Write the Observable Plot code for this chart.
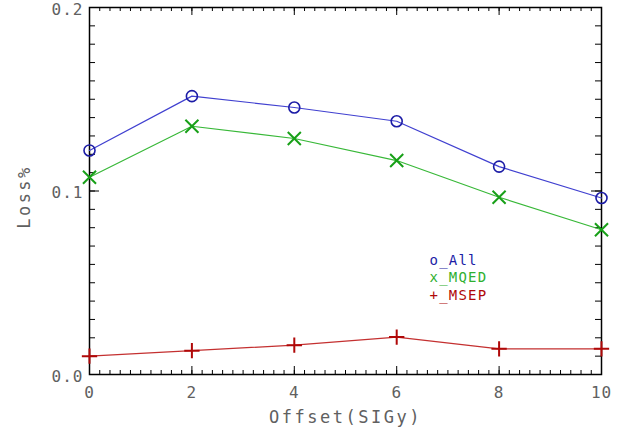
<!DOCTYPE html>
<html>
<head>
<meta charset="utf-8">
<script src="https://cdn.jsdelivr.net/npm/d3@7"></script>
<script src="https://cdn.jsdelivr.net/npm/@observablehq/plot@0.6"></script>
<style>
  html, body { margin: 0; padding: 0; background: #fff; }
  #chart svg { display: block; background: #fbfbfb; box-shadow: inset 13px 0 0 #fff, inset 0 -7px 0 #fff; }
</style>
</head>
<body>
<div id="chart"></div>
<script>
const offsets = [0, 2, 4, 6, 8, 10];
const lossAll = [0.1221, 0.1517, 0.1455, 0.1380, 0.1133, 0.0962];
const lossMQED = [0.1075, 0.1353, 0.1286, 0.1166, 0.0966, 0.0789];
const lossMSEP = [0.0100, 0.0130, 0.0160, 0.0204, 0.0140, 0.0140];
const xTickLabels = [0, 2, 4, 6, 8, 10];
const yTickLabels = [0.0, 0.1, 0.2];
const legendLabels = ["o_All", "x_MQED", "+_MSEP"];
const xTitle = "Offset(SIGy)", yTitle = "Loss%";

const blueLine = "#4040d0", blueMark = "#1c1ca6";
const greenLine = "#38b838", greenMark = "#18a018";
const redLine = "#c43030", redMark = "#b00808";

const rows = (ys) => offsets.map((x, i) => ({x, y: ys[i]}));
const all = rows(lossAll), mqed = rows(lossMQED), msep = rows(lossMSEP);

const xMinor = d3.range(0, 10.0001, 0.2);
const yMinor = d3.range(0, 0.20001, 0.01);

const W = 621, H = 434, mL = 89, mR = 20, mT = 7, mB = 60;
const pw = W - mL - mR, ph = H - mT - mB;
const font = "DejaVu Sans Mono";
const gray = "#606060";

const chart = Plot.plot({
  width: W, height: H,
  marginLeft: mL, marginRight: mR, marginTop: mT, marginBottom: mB,
  style: {fontFamily: font, background: "transparent"},
  x: {domain: [0, 10], axis: null},
  y: {domain: [0, 0.2], axis: null},
  marks: [
    // ticks (inward)
    Plot.tickX(xMinor, {x: d => d, insetTop: ph - 4, stroke: "#000"}),
    Plot.tickX(xMinor, {x: d => d, insetBottom: ph - 4, stroke: "#000"}),
    Plot.tickX(xTickLabels, {x: d => d, insetTop: ph - 8, stroke: "#000"}),
    Plot.tickX(xTickLabels, {x: d => d, insetBottom: ph - 8, stroke: "#000"}),
    Plot.tickY(yMinor, {y: d => d, insetRight: pw - 6, stroke: "#000"}),
    Plot.tickY(yMinor, {y: d => d, insetLeft: pw - 6, stroke: "#000"}),
    Plot.tickY(yTickLabels, {y: d => d, insetRight: pw - 10, stroke: "#000"}),
    Plot.tickY(yTickLabels, {y: d => d, insetLeft: pw - 10, stroke: "#000"}),
    Plot.frame({stroke: "#000", strokeWidth: 1.5}),
    // series
    Plot.line(all, {x: "x", y: "y", stroke: blueLine, strokeWidth: 1.2}),
    Plot.dot(all, {x: "x", y: "y", symbol: "circle", r: 5.5, stroke: blueMark, strokeWidth: 1.6}),
    Plot.line(mqed, {x: "x", y: "y", stroke: greenLine, strokeWidth: 1.2}),
    Plot.dot(mqed, {x: "x", y: "y", symbol: "times", r: 6, stroke: greenMark, strokeWidth: 2}),
    Plot.line(msep, {x: "x", y: "y", stroke: redLine, strokeWidth: 1.2}),
    Plot.dot(msep, {x: "x", y: "y", symbol: "plus", r: 5, stroke: redMark, strokeWidth: 2}),
    // tick labels
    Plot.text(xTickLabels, {x: d => d, frameAnchor: "bottom", dy: 18, textAnchor: "middle", lineAnchor: "middle", text: d => String(d), fill: gray, fontSize: 16}),
    Plot.text(yTickLabels, {y: d => d, frameAnchor: "left", dx: -6, dy: 2, textAnchor: "end", lineAnchor: "middle", text: d => d.toFixed(1), fill: gray, fontSize: 16}),
    // axis titles
    Plot.text([xTitle], {frameAnchor: "bottom", dy: 43, textAnchor: "middle", lineAnchor: "middle", text: d => d, fill: gray, fontSize: 17}),
    Plot.text([yTitle], {frameAnchor: "left", dx: -65, dy: 6, rotate: -90, textAnchor: "middle", lineAnchor: "middle", text: d => d, fill: gray, fontSize: 17}),
    // legend
    Plot.text([legendLabels[0]], {frameAnchor: "top-left", dx: 340, dy: 253, textAnchor: "start", lineAnchor: "middle", text: d => d, fill: blueMark, fontSize: 14}),
    Plot.text([legendLabels[1]], {frameAnchor: "top-left", dx: 340, dy: 270.5, textAnchor: "start", lineAnchor: "middle", text: d => d, fill: "#30b030", fontSize: 14}),
    Plot.text([legendLabels[2]], {frameAnchor: "top-left", dx: 340, dy: 288, textAnchor: "start", lineAnchor: "middle", text: d => d, fill: redMark, fontSize: 14})
  ]
});
d3.select(chart).selectAll("text").each(function() {
  const t = this.textContent;
  let s = 1;
  if (t === xTitle || t === yTitle) s = 2.5;
  else if (legendLabels.includes(t)) s = 1.2;
  this.style.letterSpacing = s + "px";
});
document.getElementById("chart").appendChild(chart);
</script>
</body>
</html>
